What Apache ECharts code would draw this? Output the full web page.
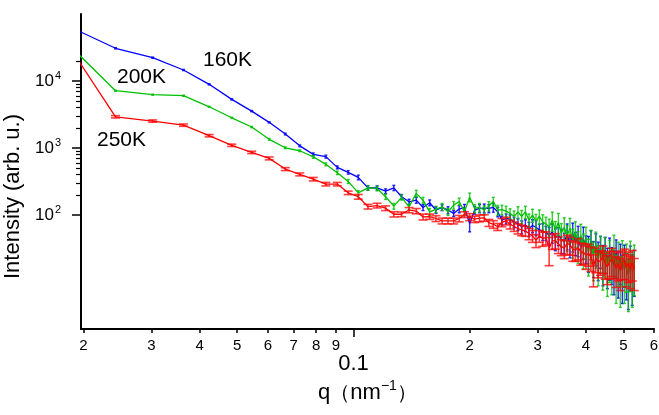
<!DOCTYPE html>
<html><head><meta charset="utf-8">
<script src="https://cdn.jsdelivr.net/npm/echarts@6/dist/echarts.min.js"></script>
<style>html,body{margin:0;padding:0;background:#fff}#c{width:659px;height:415px}</style>
</head><body><div id="c"></div>
<script>
// q values (nm^-1)
const q = [0.0181,0.0242,0.0302,0.0363,0.0423,0.0484,0.0545,0.0605,0.0666,0.0726,
0.0787,0.0848,0.0908,0.0969,0.1029,0.1090,0.1151,0.1211,0.1272,0.1332,
0.1393,0.1454,0.1514,0.1575,0.1635,0.1696,0.1757,0.1817,0.1878,0.1938,
0.1999,0.2060,0.2120,0.2181,0.2241,0.2302,0.2363,0.2423,0.2484,0.2544,
0.2605,0.2666,0.2726,0.2787,0.2847,0.2908,0.2969,0.3029,0.3090,0.3150,
0.3211,0.3272,0.3332,0.3393,0.3453,0.3514,0.3575,0.3635,0.3696,0.3756,
0.3817,0.3878,0.3938,0.3999,0.4059,0.4120,0.4181,0.4241,0.4302,0.4362,
0.4423,0.4484,0.4544,0.4605,0.4665,0.4726,0.4787,0.4847,0.4908,0.4968,
0.5029,0.5090,0.5150,0.5211,0.5271,0.5332];

// 160K (blue)
const i160 = [67600,30800,22300,14600,8930,5330,3560,2420,1620,1080,
805,746,515,435,365,255,255,228,255,188,
158,167,130,153,119,130,119,106,123,130,
75,119,126,127,126,130,112,84,89,87,
79,74,67,71,63,70,66,60,58,55,
50,56,46,50,44,40,52,36,52,40,
46,32,44,34,31,40,26,35,25,32,
22,30,20,28,21,18,27,17,23,15,
22,16,13,21,15,18];
const e160 = [0.02,0.02,0.02,0.02,0.02,0.02,0.02,0.02,0.03,0.03,
0.05,0.05,0.05,0.06,0.08,0.08,0.07,0.08,0.09,0.08,
0.09,0.1,0.1,0.1,0.11,0.1,0.12,0.1,0.12,0.11,
0.25,0.13,0.14,0.15,0.14,0.15,0.16,0.15,0.17,0.16,
0.18,0.2,0.22,0.2,0.24,0.22,0.25,0.22,0.28,0.24,
0.3,0.32,0.36,0.3,0.4,0.34,0.42,0.36,0.46,0.38,
0.48,0.42,0.5,0.44,0.55,0.46,0.55,0.5,0.58,0.5,
0.6,0.55,0.6,0.62,0.56,0.64,0.58,0.66,0.6,0.68,
0.62,0.66,0.7,0.64,0.7,0.66];

// 200K (green)
const i200 = [37200,7170,6250,6040,4130,2830,2060,1350,1010,912,
741,572,428,318,215,255,250,188,136,184,
133,211,167,112,122,133,112,141,160,112,
185,126,130,119,137,160,119,121,115,106,
96,111,96,112,84,100,82,96,79,74,
67,84,60,78,54,66,49,64,42,56,
38,50,34,44,28,39,25,36,22,31,
20,29,17,26,19,31,15,24,14,25,
16,22,13,24,15,21];
const e200 = [0.02,0.02,0.02,0.02,0.02,0.02,0.02,0.03,0.03,0.03,
0.05,0.05,0.06,0.07,0.08,0.08,0.08,0.09,0.1,0.09,
0.1,0.11,0.1,0.12,0.11,0.12,0.12,0.13,0.12,0.13,
0.15,0.14,0.15,0.15,0.16,0.15,0.17,0.16,0.18,0.17,
0.2,0.2,0.22,0.21,0.24,0.22,0.25,0.24,0.28,0.26,
0.3,0.32,0.34,0.36,0.38,0.38,0.42,0.4,0.46,0.42,
0.5,0.46,0.54,0.5,0.56,0.52,0.58,0.55,0.6,0.56,
0.62,0.6,0.64,0.62,0.66,0.62,0.68,0.64,0.7,0.66,
0.7,0.68,0.72,0.7,0.72,0.7];

// 250K (red)
const i250 = [37200,2930,2530,2200,1530,1100,862,702,486,405,
344,290,290,215,188,134,139,127,103,103,
119,115,94,95,89,82,82,82,89,102,
94,87,90,91,77,73,67,78,82,73,
68,63,60,58,53,49,42,49,45,46,
32,41,42,37,34,32,38,36,31,30,
33,28,28,25,27,24,17,23,20,21,
24,19,17,20,22,20,16,19,15,20,
21,17,19,16,20,15];
const e250 = [0.04,0.04,0.04,0.04,0.04,0.04,0.04,0.05,0.05,0.05,
0.06,0.06,0.06,0.06,0.08,0.08,0.08,0.08,0.09,0.08,
0.09,0.09,0.1,0.09,0.1,0.1,0.1,0.1,0.11,0.1,
0.12,0.11,0.12,0.11,0.12,0.13,0.12,0.14,0.13,0.15,
0.16,0.17,0.18,0.17,0.19,0.2,0.22,0.2,0.24,0.22,
0.45,0.25,0.26,0.28,0.27,0.3,0.32,0.3,0.34,0.32,
0.35,0.36,0.34,0.38,0.36,0.4,0.5,0.4,0.42,0.4,
0.44,0.42,0.46,0.44,0.45,0.44,0.48,0.45,0.5,0.46,
0.48,0.5,0.48,0.5,0.48,0.5];

// axis ticks
const xTickValues = [0.02,0.03,0.04,0.05,0.06,0.07,0.08,0.09,0.2,0.3,0.4,0.5,0.6];
const xTickLabels = ['2','3','4','5','6','7','8','9','2','3','4','5','6'];
const xMajorValues = [0.1];
const xMajorLabels = ['0.1'];
const yTickValues = [100,1000,10000];
const yTickExp = ['2','3','4'];
const yMinorValues = [200,300,400,500,600,700,800,900,2000,3000,4000,5000,6000,7000,8000,9000,20000];

const seriesNames = ['160K','200K','250K'];
const colors = ['#0000ff','#00c000','#ff0000'];
const FONT = 'Liberation Sans, Arial, sans-serif';

function toReal(v, thr){ return v <= thr ? Math.pow(10, v) : v; }
function findIdx(arr, v){
  for (let i=0;i<arr.length;i++){ if (Math.abs(Math.log10(arr[i]) - Math.log10(v)) < 1e-4) return i; }
  return -1;
}

function errData(vals, errs){
  return q.map((x,i)=>[x, vals[i], vals[i]*(1-errs[i]), vals[i]*(1+errs[i])]);
}
function errRender(color, capW, lw, opacity){
  return function(params, api){
    const x = api.value(0), lo = api.value(2), hi = api.value(3);
    const p1 = api.coord([x, hi]), p2 = api.coord([x, lo]);
    const st = {stroke: color, lineWidth: lw, opacity: opacity};
    return {type:'group', children:[
      {type:'line', shape:{x1:p1[0],y1:p1[1],x2:p2[0],y2:p2[1]}, style:st},
      {type:'line', shape:{x1:p1[0]-capW/2,y1:p1[1],x2:p1[0]+capW/2,y2:p1[1]}, style:st},
      {type:'line', shape:{x1:p2[0]-capW/2,y1:p2[1],x2:p2[0]+capW/2,y2:p2[1]}, style:st}
    ]};
  };
}

const data = [i160, i200, i250];
const errs = [e160, e200, e250];
const series = [];
const caps = [3, 3, 9];
const ops = [0.85, 0.8, 0.75];
const lws = [1.4, 1.4, 1.6];
for (let k=0;k<3;k++){
  series.push({
    type:'custom', name: seriesNames[k]+' err', xAxisIndex:0, yAxisIndex:0, clip:true,
    renderItem: errRender(colors[k], caps[k], lws[k], ops[k]),
    encode:{x:0, y:[1,2,3]}, data: errData(data[k], errs[k]), z: 2+k*2, silent:true
  });
  series.push({
    type:'line', name: seriesNames[k], xAxisIndex:0, yAxisIndex:0, clip:true,
    data: q.map((x,i)=>[x, data[k][i]]), symbol:'none',
    lineStyle:{color: colors[k], width:1.3}, z: 3+k*2, silent:true
  });
}

const chart = echarts.init(document.getElementById('c'), null, {renderer:'canvas'});
chart.setOption({
  animation:false,
  backgroundColor:'#fff',
  grid:{left:81, right:5, top:14, bottom:86, containLabel:false, outerBoundsMode:'none'},
  xAxis:[{
    type:'log', min:0.0197, max:0.6, position:'bottom',
    name:'q{p|（}nm{s|−1}{p|）}', nameLocation:'middle', nameGap:50,
    nameTextStyle:{fontFamily:FONT, fontSize:22, color:'#000',
      rich:{p:{fontSize:20, fontFamily:FONT, color:'#000'}, s:{fontSize:14, fontFamily:FONT, color:'#000', padding:[0,0,14,0]}}},
    axisLine:{show:true, onZero:false, lineStyle:{color:'#000', width:2}},
    axisTick:{show:true, customValues:xTickValues, length:4, lineStyle:{color:'#000', width:1.5}},
    axisLabel:{show:true, customValues:xTickValues, margin:9, fontFamily:FONT, fontSize:15, color:'#000',
      align:'center', alignMinLabel:'center', alignMaxLabel:'center',
      formatter:(v)=>{ const i = findIdx(xTickValues, toReal(v, 0)); return i>=0 ? xTickLabels[i] : ''; }},
    splitLine:{show:false}, minorTick:{show:false}
  },{
    type:'log', min:0.0197, max:0.6, position:'bottom',
    axisLine:{show:false},
    axisTick:{show:true, customValues:xMajorValues, length:8, lineStyle:{color:'#000', width:1.5}},
    axisLabel:{show:true, customValues:xMajorValues, margin:24, fontFamily:FONT, fontSize:22, color:'#000',
      formatter:(v)=>{ const i = findIdx(xMajorValues, toReal(v, 0)); return i>=0 ? xMajorLabels[i] : ''; }},
    splitLine:{show:false}
  }],
  yAxis:[{
    type:'log', min:2, max:100000, position:'left',
    name:'Intensity (arb. u.)', nameLocation:'middle', nameGap:48, nameRotate:90,
    nameTextStyle:{fontFamily:FONT, fontSize:22, color:'#000', padding:[0,50,0,0]},
    axisLine:{show:true, onZero:false, lineStyle:{color:'#000', width:2}},
    axisTick:{show:true, customValues:yTickValues, length:9, lineStyle:{color:'#000', width:1.5}},
    axisLabel:{show:true, customValues:yTickValues, margin:20, color:'#000',
      formatter:(v)=>{ const i = findIdx(yTickValues, toReal(v, 10)); return i>=0 ? '{b|10}{s|'+yTickExp[i]+'}' : ''; },
      rich:{b:{fontFamily:FONT, fontSize:17, color:'#000'}, s:{fontFamily:FONT, fontSize:11, color:'#000', padding:[0,0,10,1]}}},
    splitLine:{show:false}
  },{
    type:'log', min:2, max:100000, position:'left',
    axisLine:{show:false},
    axisTick:{show:true, customValues:yMinorValues, length:5, lineStyle:{color:'#000', width:1.2}},
    axisLabel:{show:false}, splitLine:{show:false}
  }],
  graphic:[
    {type:'text', x:203, y:60, style:{text:seriesNames[0], fontFamily:FONT, fontSize:21, fill:'#000', align:'left', verticalAlign:'middle'}},
    {type:'text', x:117, y:77, style:{text:seriesNames[1], fontFamily:FONT, fontSize:21, fill:'#000', align:'left', verticalAlign:'middle'}},
    {type:'text', x:97, y:140, style:{text:seriesNames[2], fontFamily:FONT, fontSize:21, fill:'#000', align:'left', verticalAlign:'middle'}}
  ],
  series: series
});
</script></body></html>
